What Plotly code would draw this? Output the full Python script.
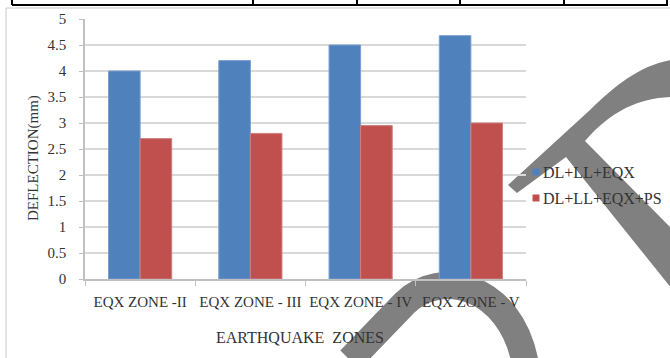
import plotly.graph_objects as go

# Chart data
zones = ["EQX ZONE -II", "EQX ZONE - III", "EQX ZONE - IV", "EQX ZONE - V"]
series_names = ["DL+LL+EQX", "DL+LL+EQX+PS"]
deflection_eqx = [4.0, 4.2, 4.5, 4.68]
deflection_eqx_ps = [2.7, 2.8, 2.95, 3.0]
y_ticks = [0, 0.5, 1, 1.5, 2, 2.5, 3, 3.5, 4, 4.5, 5]

# Figure geometry (pixels)
W, H = 670, 358
ML, MR, MT, MB = 85, 144, 19, 79
PW, PH = W - ML - MR, H - MT - MB

BLUE = "#4F81BD"
RED = "#C0504D"
FONT = "Liberation Serif, Times New Roman, serif"
TXT = "#333333"


def px(x):
    return (x - ML) / PW


def py(y):
    return (H - MB - y) / PH


def path(cmds):
    # cmds: list of (letter, [x0, y0, x1, y1, ...]) in pixel space
    out = []
    for letter, pts in cmds:
        coords = []
        for i in range(0, len(pts), 2):
            coords.append(f"{px(pts[i]):.4f},{py(pts[i + 1]):.4f}")
        out.append(letter + " ".join(coords))
    return " ".join(out)


fig = go.Figure()
fig.add_trace(go.Bar(x=zones, y=deflection_eqx, name=series_names[0],
                     marker=dict(color=BLUE, line=dict(color="#7a9fd0", width=1)),
                     showlegend=False))
fig.add_trace(go.Bar(x=zones, y=deflection_eqx_ps, name=series_names[1],
                     marker=dict(color=RED, line=dict(color="#d07f7d", width=1)),
                     showlegend=False))

shapes = []
# decorative grey graphic behind the chart content
shapes.append(dict(
    type="path", xref="paper", yref="paper", layer="below",
    path=path([("M", [350, 360]), ("L", [405, 303]),
               ("C", [440, 268, 510, 285, 525, 362])]),
    line=dict(color="#808080", width=27), fillcolor="rgba(0,0,0,0)"))
shapes.append(dict(
    type="path", xref="paper", yref="paper", layer="below",
    path=path([("M", [508, 185]), ("L", [590, 110]),
               ("C", [615, 86, 640, 65, 672, 60]), ("L", [672, 97]),
               ("C", [640, 98, 612, 110, 585, 141]), ("L", [672, 229]),
               ("L", [672, 289]), ("L", [566, 157]), ("L", [517, 193])]) + " Z",
    line=dict(width=0), fillcolor="#808080"))

# chart frame (top and left edges)
shapes.append(dict(type="line", xref="paper", yref="paper", layer="below",
                   x0=px(6), y0=py(8), x1=px(672), y1=py(8),
                   line=dict(color="#c8c8c8", width=1)))
shapes.append(dict(type="line", xref="paper", yref="paper", layer="below",
                   x0=px(6), y0=py(8), x1=px(6), y1=py(360),
                   line=dict(color="#c8c8c8", width=1)))

# table rule above the chart
shapes.append(dict(type="line", xref="paper", yref="paper", layer="above",
                   x0=px(12), y0=py(5), x1=px(668), y1=py(5),
                   line=dict(color="black", width=2)))
for vx in [12, 253, 357, 460, 564, 667]:
    shapes.append(dict(type="line", xref="paper", yref="paper", layer="above",
                       x0=px(vx), y0=py(-2), x1=px(vx), y1=py(5),
                       line=dict(color="black", width=2)))

# legend
annotations = []
for i, (name, col) in enumerate(zip(series_names, [BLUE, RED])):
    cy = 172 + 26 * i
    shapes.append(dict(type="rect", xref="paper", yref="paper", layer="above",
                       x0=px(532.5), x1=px(539.5), y0=py(cy - 3.5), y1=py(cy + 3.5),
                       fillcolor=col, line=dict(width=0)))
    annotations.append(dict(text=name, xref="paper", yref="paper",
                            x=px(541), y=py(cy), xanchor="left", yanchor="middle",
                            showarrow=False, font=dict(family=FONT, size=16, color=TXT)))

# axis titles
annotations.append(dict(text="DEFLECTION(mm)", xref="paper", yref="paper",
                        x=px(33), y=py(158), textangle=-90, showarrow=False,
                        xanchor="center", yanchor="middle",
                        font=dict(family=FONT, size=15, color=TXT)))
annotations.append(dict(text="EARTHQUAKE\u00a0 ZONES", xref="paper", yref="paper",
                        x=px(300), y=py(337), showarrow=False,
                        xanchor="center", yanchor="middle",
                        font=dict(family=FONT, size=16, color=TXT)))

fig.update_layout(
    width=W, height=H,
    margin=dict(l=ML, r=MR, t=MT, b=MB, pad=0, autoexpand=False),
    paper_bgcolor="white", plot_bgcolor="white",
    barmode="group", bargap=0.427, bargroupgap=0,
    showlegend=False,
    shapes=shapes, annotations=annotations,
    font=dict(family=FONT, color=TXT),
)
fig.update_yaxes(range=[0, 5], tickvals=y_ticks, showgrid=True,
                 gridcolor="#d9d9d9", gridwidth=1.5,
                 showline=True, linecolor="#c0c0c0", linewidth=1.5,
                 ticks="outside", ticklen=4, tickcolor="#c0c0c0",
                 ticklabelstandoff=10, zeroline=False, automargin=False,
                 tickfont=dict(family=FONT, size=15, color=TXT))
fig.update_xaxes(showgrid=False, showline=True, linecolor="#c0c0c0", linewidth=1.5,
                 ticks="outside", ticklen=5, tickcolor="#c0c0c0",
                 tickson="boundaries", ticklabelstandoff=8, tickangle=0,
                 automargin=False,
                 tickfont=dict(family=FONT, size=15, color=TXT))

fig.write_html("out.html")
